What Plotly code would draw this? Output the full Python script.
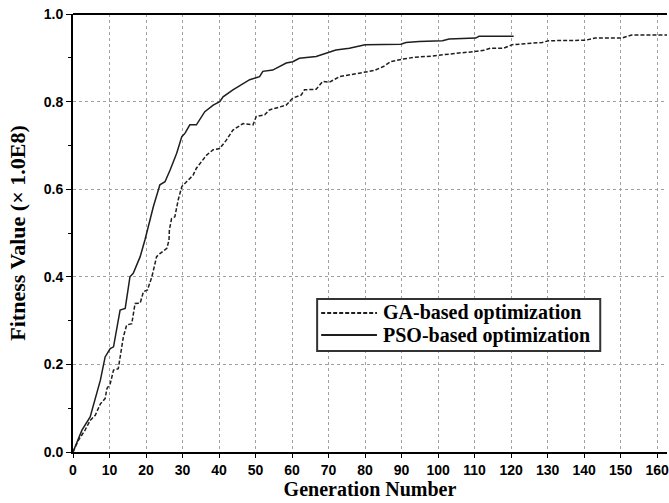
import plotly.graph_objects as go

# PSO-based optimization (solid)
pso_gen = [0, 2.45, 4.7, 7.5, 8.8, 10.2, 11.1, 12.9, 14.3, 15.6, 16.5, 18.4, 19.7,
           22.0, 23.8, 25.2, 26.6, 28.4, 29.8, 30.7, 32.0, 33.8, 36.1, 38.4, 40.2,
           41.1, 43.8, 48.4, 51.1, 52.0, 54.7, 58.4, 60.2, 62.0, 66.6, 72.0, 75.7,
           80.0, 89.8, 91.2, 94.8, 101.2, 103.0, 110.3, 111.2, 120.7]
pso_val = [0, 0.05, 0.08, 0.164, 0.217, 0.236, 0.24, 0.324, 0.328, 0.40, 0.408, 0.446, 0.484,
           0.56, 0.61, 0.617, 0.644, 0.682, 0.72, 0.728, 0.747, 0.747, 0.777, 0.792, 0.80,
           0.811, 0.827, 0.85, 0.857, 0.869, 0.872, 0.888, 0.891, 0.899, 0.903, 0.918, 0.922,
           0.93, 0.931, 0.935, 0.937, 0.939, 0.943, 0.945, 0.949, 0.949]

# GA-based optimization (dashed)
ga_gen = [0, 1.5, 3.3, 4.7, 6.1, 7.5, 8.8, 9.3, 10.2, 11.1, 12.4, 13.8, 14.7, 16.1, 17.0,
          18.4, 19.3, 20.4, 21.6, 22.9, 23.8, 25.7, 26.3, 26.4, 27.0, 27.9, 28.8, 29.8,
          31.1, 32.9, 33.8, 35.6, 36.6, 38.4, 40.2, 42.0, 43.8, 46.6, 49.3, 50.2, 52.5,
          53.8, 58.4, 60.2, 62.5, 63.4, 66.6, 68.4, 70.2, 73.0, 75.7, 78.4, 82.5, 85.0,
          87.0, 90.2, 93.4, 98.4, 101.2, 105.7, 109.8, 112.6, 114.4, 118.0, 120.3, 124.0,
          128.5, 130.3, 140.3, 143.0, 150.3, 153.0, 165.0]
ga_val = [0, 0.027, 0.05, 0.072, 0.084, 0.11, 0.122, 0.145, 0.156, 0.187, 0.19, 0.263, 0.29,
          0.293, 0.339, 0.34, 0.366, 0.37, 0.40, 0.446, 0.453, 0.465, 0.484, 0.507, 0.533,
          0.537, 0.575, 0.606, 0.617, 0.632, 0.648, 0.667, 0.678, 0.69, 0.693, 0.712, 0.735,
          0.75, 0.747, 0.766, 0.77, 0.781, 0.792, 0.808, 0.815, 0.827, 0.828, 0.846, 0.844,
          0.857, 0.861, 0.866, 0.871, 0.88, 0.891, 0.897, 0.901, 0.904, 0.907, 0.911, 0.914,
          0.917, 0.922, 0.922, 0.93, 0.933, 0.935, 0.939, 0.94, 0.945, 0.945, 0.952, 0.952]

series_names = ["GA-based optimization", "PSO-based optimization"]
x_ticks = list(range(0, 170, 10))
y_ticks = [0.0, 0.2, 0.4, 0.6, 0.8, 1.0]

serif = "Liberation Serif"
sans = "Liberation Sans"
ink = "#1e1e1e"
GA_DASH = "4px,2px"

fig = go.Figure()
fig.add_trace(go.Scatter(x=ga_gen, y=ga_val, mode="lines", name=series_names[0],
                         line=dict(color=ink, width=1.5, dash=GA_DASH)))
fig.add_trace(go.Scatter(x=pso_gen, y=pso_val, mode="lines", name=series_names[1],
                         line=dict(color=ink, width=1.5)))

grid = dict(showgrid=True, gridcolor="#a0a0a0", gridwidth=1, griddash="dot")

fig.update_layout(
    width=669, height=503,
    margin=dict(l=73, r=0, t=14, b=51),
    plot_bgcolor="white", paper_bgcolor="white",
    showlegend=False,
    xaxis=dict(range=[0, 162.7], tickvals=x_ticks, ticktext=[str(v) for v in x_ticks],
               showline=True, linecolor="black", linewidth=2, ticks="outside", ticklen=4,
               tickcolor="black", ticklabeloverflow="allow",
               tickfont=dict(family=sans, size=14, color="black", weight="bold"),
               title=dict(text="Generation Number", standoff=4,
                          font=dict(family=serif, size=20, color="black", weight="bold")),
               zeroline=False, **grid),
    yaxis=dict(range=[0, 1.0], tickvals=y_ticks, ticktext=[f"{v:.1f}" for v in y_ticks],
               showline=True, linecolor="black", linewidth=2, ticks="outside", ticklen=5,
               tickcolor="black",
               minor=dict(ticks="outside", ticklen=3, dtick=0.1, tickcolor="black", showgrid=False),
               tickfont=dict(family=sans, size=14, color="black", weight="bold"),
               title=dict(text="Fitness Value (× 1.0E8)", standoff=12,
                          font=dict(family=serif, size=22, color="black", weight="bold")),
               zeroline=False, **grid),
)
# top frame line
fig.add_shape(type="line", xref="paper", yref="paper", x0=0, x1=1, y0=1, y1=1,
              line=dict(color="black", width=2))

# legend box drawn to match the original's long line samples
fig.add_shape(type="rect", xref="paper", yref="paper", x0=0.411, x1=0.8876, y0=0.2306, y1=0.3493,
              line=dict(color="#333333", width=2), fillcolor="white", layer="above")
rows_y = [0.3174, 0.2671]
dashes = [GA_DASH, "solid"]
for name, ry, dsh in zip(series_names, rows_y, dashes):
    fig.add_shape(type="line", xref="paper", yref="paper", x0=0.4178, x1=0.5117, y0=ry, y1=ry,
                  line=dict(color=ink, width=2, dash=dsh), layer="above")
    fig.add_annotation(xref="paper", yref="paper", x=0.5185, y=ry, xanchor="left", yanchor="middle",
                       text=name, showarrow=False,
                       font=dict(family=serif, size=20, color="black", weight="bold"))

fig.write_html("out.html")
